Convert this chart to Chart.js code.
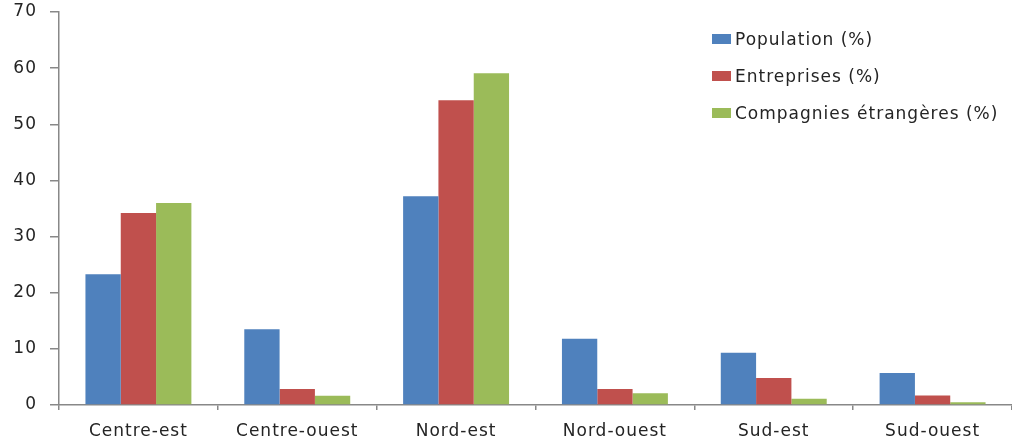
<!DOCTYPE html>
<html>
<head>
<meta charset="utf-8">
<script src="https://cdn.jsdelivr.net/npm/chart.js@4/dist/chart.umd.min.js"></script>
<style>
html,body{margin:0;padding:0;background:#fff;}
#wrap{width:1012px;height:446px;position:relative;}
</style>
</head>
<body>
<div id="wrap"><canvas id="c" width="1012" height="446"></canvas></div>
<script>
const categories = ["Centre-est", "Centre-ouest", "Nord-est", "Nord-ouest", "Sud-est", "Sud-ouest"];
const population = [23.3, 13.5, 37.2, 11.8, 9.3, 5.7];
const entreprises = [34.2, 2.85, 54.3, 2.85, 4.8, 1.7];
const compagnies = [36.0, 1.65, 59.1, 2.1, 1.1, 0.5];
const seriesNames = ["Population (%)", "Entreprises (%)", "Compagnies étrangères (%)"];
const colors = ["#4F81BD", "#C0504D", "#9BBB59"];

const FONT = "'DejaVu Sans', sans-serif";
const TEXT = '#242424';

const spacingPlugin = {
  id: 'spacing',
  beforeUpdate(chart) { chart.ctx.letterSpacing = '1px'; },
  beforeLayout(chart) { chart.ctx.letterSpacing = '1px'; },
  beforeDraw(chart) { chart.ctx.letterSpacing = '1px'; }
};

const legendPlugin = {
  id: 'customLegend',
  afterDraw(chart) {
    const ctx = chart.ctx;
    ctx.save();
    ctx.letterSpacing = '1px';
    ctx.font = "17px " + FONT;
    ctx.textBaseline = 'middle';
    chart.data.datasets.forEach((ds, i) => {
      const y = 40 + i * 37;
      ctx.fillStyle = ds.backgroundColor;
      ctx.fillRect(712, y - 6, 19, 10);
      ctx.fillStyle = TEXT;
      ctx.fillText(ds.label, 735, y + 1);
    });
    ctx.restore();
  }
};

new Chart(document.getElementById('c'), {
  type: 'bar',
  data: {
    labels: categories,
    datasets: [
      { label: seriesNames[0], data: population, backgroundColor: colors[0] },
      { label: seriesNames[1], data: entreprises, backgroundColor: colors[1] },
      { label: seriesNames[2], data: compagnies, backgroundColor: colors[2] }
    ]
  },
  options: {
    responsive: false,
    animation: false,
    devicePixelRatio: 1,
    layout: { padding: { top: 12, right: 0, left: 0, bottom: 0 } },
    datasets: { bar: { categoryPercentage: 0.667, barPercentage: 1.0 } },
    plugins: { legend: { display: false }, tooltip: { enabled: false } },
    scales: {
      x: {
        offset: true,
        grid: { display: true, drawOnChartArea: false, offset: true, color: '#888', lineWidth: 1.5, tickLength: 5 },
        border: { display: true, color: '#888', width: 1.5 },
        ticks: { color: TEXT, font: { family: FONT, size: 17 }, padding: 11, maxRotation: 0 },
        afterFit(scale) { scale.height = 41; }
      },
      y: {
        min: 0, max: 70,
        ticks: { stepSize: 10, color: TEXT, font: { family: FONT, size: 17 }, padding: 13 },
        grid: { display: true, drawOnChartArea: false, color: '#888', lineWidth: 1.5, tickLength: 9 },
        border: { display: true, color: '#888', width: 1.5 },
        afterFit(scale) { scale.width = 59; scale.paddingTop = 0; scale.paddingBottom = 0; }
      }
    }
  },
  plugins: [spacingPlugin, legendPlugin]
});
</script>
</body>
</html>
